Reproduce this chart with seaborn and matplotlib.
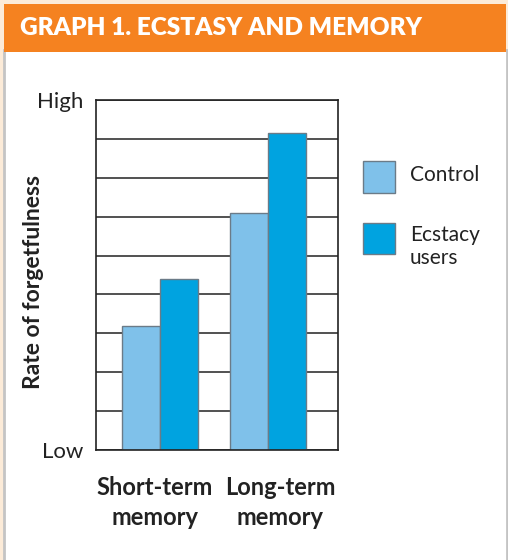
import matplotlib
matplotlib.use("Agg")
import matplotlib.pyplot as plt
import matplotlib.transforms as mtransforms
from matplotlib.patches import Rectangle
from pandas import DataFrame
import seaborn as sns

# values (scale 0 = Low .. 9 = High)
categories = ["Short-term\nmemory", "Long-term\nmemory"]
groups = ["Control", "Ecstacy\nusers"]
control = [3.2, 6.1]
ecstasy = [4.4, 8.15]
colors = ["#7fc1ea", "#00a3e0"]

rows = []
for i, cat in enumerate(categories):
    rows.append([cat, groups[0], control[i]])
    rows.append([cat, groups[1], ecstasy[i]])
df = DataFrame(rows, columns=["memory", "group", "rate"])

sns.set_style("white")
plt.rcParams["font.family"] = ["Lato", "DejaVu Sans"]

fig = plt.figure(figsize=(5.08, 5.6), dpi=100)
fig.patch.set_facecolor("#fcebd8")

W, H = 508.0, 560.0
def px(x0, y0, x1, y1):
    # rectangle in pixel coords (top-left origin) -> figure fraction
    return (x0 / W, 1 - y1 / H), (x1 - x0) / W, (y1 - y0) / H

# white panel with grey edge, orange header
xy, w, h = px(4, 50, 507, 562)
fig.add_artist(Rectangle(xy, w, h, transform=fig.transFigure,
                         facecolor="white", edgecolor="#c4c4c4", lw=2, zorder=0))
xy, w, h = px(4, 4, 506, 52)
fig.add_artist(Rectangle(xy, w, h, transform=fig.transFigure,
                         facecolor="#f58220", edgecolor="none", zorder=1))
fig.text(20 / W, 1 - 28 / H, "GRAPH 1. ECSTASY AND MEMORY", color="white",
         fontsize=17.6, fontweight="heavy", va="center", ha="left")

ax = fig.add_axes([96 / W, 1 - 450 / H, 242 / W, 350 / H])
sns.barplot(data=df, x="memory", y="rate", hue="group", palette=colors,
            width=0.7, edgecolor="#6b7b88", linewidth=1, saturation=1, ax=ax)

ax.set_xlim(-0.593, 1.648)
ax.set_ylim(0, 9)
ax.set_yticks(range(10))
ax.set_yticklabels(["Low"] + [""] * 8 + ["High"], fontsize=16, color="#222222")
ax.tick_params(axis="both", length=0)
ax.tick_params(axis="y", pad=9)
ax.tick_params(axis="x", pad=19)
ax.grid(axis="y", color="#333333", lw=1.2)
ax.set_axisbelow(True)
for s in ax.spines.values():
    s.set_visible(True)
    s.set_color("#222222")
    s.set_linewidth(1.2)

ax.set_xlabel("")
ax.set_ylabel("Rate of forgetfulness", fontsize=16.5, fontweight="bold", color="#222222")
ax.yaxis.set_label_coords(-0.215, 0.479)

shifts = [-5, 12]
for lab, dx in zip(ax.get_xticklabels(), shifts):
    lab.set_fontsize(17)
    lab.set_fontweight("bold")
    lab.set_color("#222222")
    lab.set_linespacing(1.35)
    lab.set_transform(lab.get_transform() +
                      mtransforms.ScaledTranslation(dx / 100, 0, fig.dpi_scale_trans))

sns.move_legend(ax, "upper left", bbox_to_anchor=(363 / W, 1 - 161 / H),
                bbox_transform=fig.transFigure, frameon=False, title=None,
                fontsize=15, handlelength=1.55, handleheight=1.95,
                handletextpad=0.7, labelspacing=1.11, borderpad=0, borderaxespad=0)
for t, dy in zip(ax.get_legend().get_texts(), [-2, 9]):
    t.set_color("#222222")
    t.set_transform(t.get_transform() +
                    mtransforms.ScaledTranslation(0, -dy / 100, fig.dpi_scale_trans))

fig.savefig("out.png", dpi=100, facecolor=fig.get_facecolor())
